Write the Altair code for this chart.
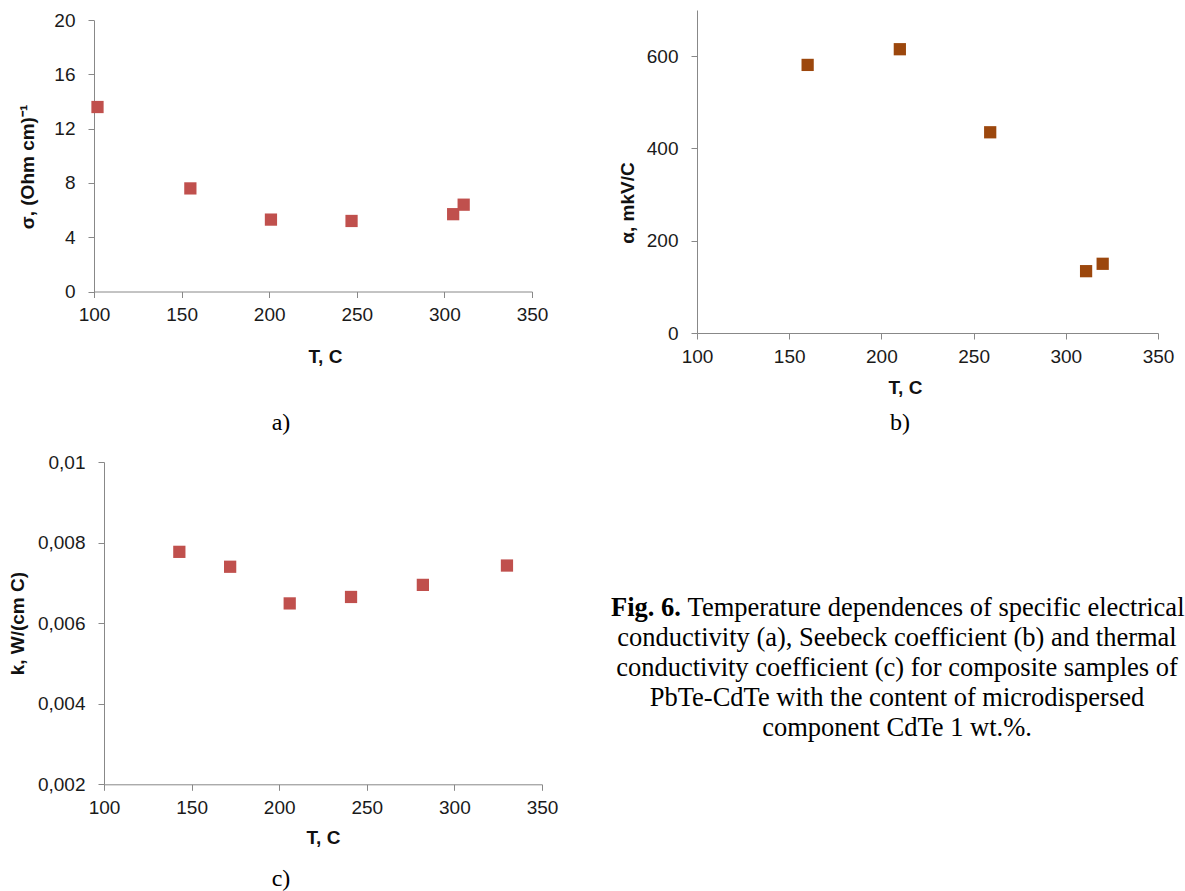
import altair as alt
import pandas as pd

# ---------------- data ----------------
a_T = [102, 155, 201, 247, 305, 311]
a_sigma = [13.6, 7.6, 5.3, 5.2, 5.7, 6.4]

b_T = [160, 210, 259, 311, 320]
b_alpha = [581, 615, 435, 134, 150]

c_T = [143, 172, 206, 241, 282, 330]
c_k = [0.00777, 0.00740, 0.00649, 0.00665, 0.00695, 0.00743]

x_ticks = [100, 150, 200, 250, 300, 350]
a_yticks = [0, 4, 8, 12, 16, 20]
b_yticks = [0, 200, 400, 600]
c_yticks = [0.002, 0.004, 0.006, 0.008, 0.01]

panel_labels = ["a)", "b)", "c)"]
caption_head = "Fig. 6."
caption_first = "Temperature dependences of specific electrical"
caption_rest = [
    "conductivity (a), Seebeck coefficient (b) and thermal",
    "conductivity coefficient (c) for composite samples of",
    "PbTe-CdTe with the content of microdispersed",
    "component CdTe 1 wt.%.",
]

RED = "#C0504D"
BROWN = "#9C470D"
SERIF = "Liberation Serif"
SANS = "Liberation Sans"
CAP = 26.5

one = pd.DataFrame({"t": [""]})


def anchor(x1, y1, x2, y2):
    return alt.Chart(one).mark_rule(opacity=0, strokeWidth=1, color="white").encode(
        x=alt.value(x1), x2=alt.value(x2), y=alt.value(y1), y2=alt.value(y2)
    )


def label(txt, x, y, size=24, weight="normal", align="center", baseline="middle"):
    return alt.Chart(pd.DataFrame({"t": [txt]})).mark_text(
        font=SERIF, fontSize=size, fontWeight=weight, align=align,
        baseline=baseline, color="black", lineBreak="\n", lineHeight=30,
    ).encode(x=alt.value(x), y=alt.value(y), text="t:N")


# ---------------- panel a ----------------
# group origin (104, 10.5); plot spans x 94..532, y 20.7..292
df_a = pd.DataFrame({"T": a_T, "v": a_sigma})
pts_a = alt.Chart(df_a).mark_square(size=150, opacity=1, color=RED).encode(
    x=alt.X("T:Q", scale=alt.Scale(domain=[100, 350], nice=False, range=[-10, 428]),
            axis=alt.Axis(values=x_ticks, title="T, C", titlePadding=23, titleX=221,
                          labelPadding=8)),
    y=alt.Y("v:Q", scale=alt.Scale(domain=[0, 20], nice=False, range=[281.5, 10.2]),
            axis=alt.Axis(values=a_yticks, title="σ, (Ohm cm)⁻¹", titlePadding=16,
                          titleY=156.5, labelPadding=13, offset=10)),
)
chart_a = alt.layer(
    pts_a,
    label(panel_labels[0], 177, 412.5),
    anchor(-103.5, 100, -103.5, 101),    # left edge at x=0
    anchor(100, -10, 101, -10),          # top edge at y=0
    anchor(476, 100, 476, 101),          # right edge x=580
    anchor(100, 430, 101, 430),          # bottom edge
).properties(width=428, height=281.5)

# ---------------- panel b ----------------
# group origin (698, 10.5), size 461 x 323
df_b = pd.DataFrame({"T": b_T, "v": b_alpha})
pts_b = alt.Chart(df_b).mark_square(size=150, opacity=1, color=BROWN).encode(
    x=alt.X("T:Q", scale=alt.Scale(domain=[100, 350], nice=False),
            axis=alt.Axis(values=x_ticks, title="T, C", titlePadding=12, titleX=208,
                          labelPadding=8)),
    y=alt.Y("v:Q", scale=alt.Scale(domain=[0, 700], nice=False),
            axis=alt.Axis(values=b_yticks, title="α, mkV/C", titlePadding=9,
                          titleY=192.5, labelPadding=13)),
)
chart_b = alt.layer(
    pts_b,
    label(panel_labels[1], 203, 412.5),
    anchor(-117, 100, -117, 101),        # left edge
).properties(width=461, height=323)

# ---------------- panel c ----------------
# group origin (104, 462.7), size 438 x 322.3
df_c = pd.DataFrame({"T": c_T, "v": c_k})
pts_c = alt.Chart(df_c).mark_square(size=150, opacity=1, color=RED).encode(
    x=alt.X("T:Q", scale=alt.Scale(domain=[100, 350], nice=False),
            axis=alt.Axis(values=x_ticks, title="T, C", titlePadding=11,
                          labelPadding=8)),
    y=alt.Y("v:Q", scale=alt.Scale(domain=[0.002, 0.01], nice=False, zero=False),
            axis=alt.Axis(values=c_yticks, title="k, W/(cm C)", titlePadding=10,
                          labelPadding=13,
                          labelExpr="replace(format(datum.value, '~g'), '.', ',')")),
)
cap_x0 = 611 - 104
chart_c = alt.layer(
    pts_c,
    label(panel_labels[2], 177, 417),
    label(caption_head, cap_x0, 146, size=CAP, weight="bold", align="left"),
    label(caption_first, cap_x0 + 2.889 * CAP, 146, size=CAP, align="left"),
    label("\n".join(caption_rest), 793, 163, size=CAP, baseline="top"),
    anchor(-103.5, 100, -103.5, 101),    # left edge x=0
    anchor(100, -21.2, 101, -21.2),      # top edge
).properties(width=438, height=322.3)

chart = alt.vconcat(
    alt.hconcat(chart_a, chart_b, spacing=0),
    chart_c,
    spacing=0,
).properties(padding=0).configure_view(stroke=None).configure_axis(
    domainColor="#888888", tickColor="#888888", tickSize=6, grid=False,
    labelFlush=False, labelOverlap=False,
    labelFont=SANS, labelFontSize=19, labelColor="#1a1a1a",
    titleFont=SANS, titleFontSize=19, titleFontWeight="bold", titleColor="#111111",
)

chart.save("out.html", embed_options={"renderer": "svg", "actions": False})
